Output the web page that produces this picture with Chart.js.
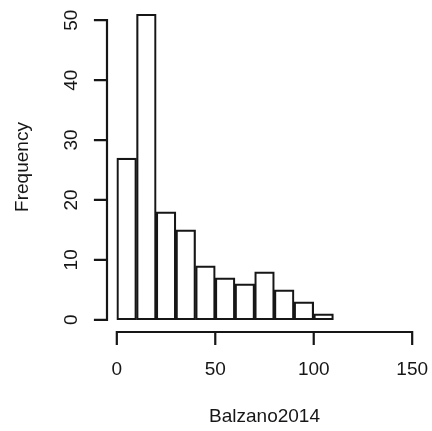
<!DOCTYPE html>
<html>
<head>
<meta charset="utf-8">
<script src="https://cdn.jsdelivr.net/npm/chart.js@4.4.1/dist/chart.umd.min.js"></script>
<style>
  html, body { margin: 0; padding: 0; background: #fff; }
  #wrap { width: 432px; height: 431px; }
</style>
</head>
<body>
<div id="wrap"><canvas id="c" width="432" height="431"></canvas></div>
<script>
// Histogram of Balzano2014: bin edges and counts per bin
const breaks = [0, 10, 20, 30, 40, 50, 60, 70, 80, 90, 100, 110];
const counts = [27, 51, 18, 15, 9, 7, 6, 8, 5, 3, 1];
const xTicks = [0, 50, 100, 150];
const yTicks = [0, 10, 20, 30, 40, 50];
const xTitle = 'Balzano2014';
const yTitle = 'Frequency';

// one point per bin, placed at the bin midpoint
const binData = counts.map((c, i) => ({ x: (breaks[i] + breaks[i + 1]) / 2, y: c }));

const FONT = '19px "Liberation Sans", Arial, Helvetica, sans-serif';
const INK = '#161616';

// R-style detached axes: lines span only the tick range, ticks point outward
const rAxes = {
  id: 'rAxes',
  afterDraw(chart) {
    const { ctx, chartArea: a, scales: { x, y } } = chart;
    const tl = 12;
    ctx.save();
    ctx.strokeStyle = INK;
    ctx.lineWidth = 2.2;
    ctx.lineCap = 'square';

    // x axis
    const yb = a.bottom;
    ctx.beginPath();
    ctx.moveTo(x.getPixelForValue(xTicks[0]), yb);
    ctx.lineTo(x.getPixelForValue(xTicks[xTicks.length - 1]), yb);
    xTicks.forEach(v => {
      const px = x.getPixelForValue(v);
      ctx.moveTo(px, yb);
      ctx.lineTo(px, yb + tl);
    });
    // y axis
    const xl = a.left + 2;
    ctx.moveTo(xl, y.getPixelForValue(yTicks[0]));
    ctx.lineTo(xl, y.getPixelForValue(yTicks[yTicks.length - 1]));
    yTicks.forEach(v => {
      const py = y.getPixelForValue(v);
      ctx.moveTo(xl, py);
      ctx.lineTo(xl - tl, py);
    });
    ctx.stroke();

    ctx.fillStyle = INK;
    ctx.font = FONT;
    ctx.textAlign = 'center';
    ctx.textBaseline = 'middle';
    xTicks.forEach(v => ctx.fillText(String(v), x.getPixelForValue(v), yb + 38));
    ctx.fillText(xTitle, (x.getPixelForValue(xTicks[0]) + x.getPixelForValue(xTicks[xTicks.length - 1])) / 2, yb + 85);

    yTicks.forEach(v => {
      ctx.save();
      ctx.translate(xl - 35, y.getPixelForValue(v));
      ctx.rotate(-Math.PI / 2);
      ctx.fillText(String(v), 0, 0);
      ctx.restore();
    });
    ctx.save();
    ctx.translate(23, (a.top + a.bottom) / 2);
    ctx.rotate(-Math.PI / 2);
    ctx.fillText(yTitle, 0, 0);
    ctx.restore();
    ctx.restore();
  }
};

new Chart(document.getElementById('c'), {
  type: 'bar',
  data: {
    datasets: [{
      data: binData,
      backgroundColor: '#ffffff',
      borderColor: INK,
      borderWidth: 2.2,
      borderSkipped: false,
      barPercentage: 1,
      categoryPercentage: 1
    }]
  },
  options: {
    responsive: false,
    animation: false,
    devicePixelRatio: 1,
    layout: { padding: { left: 105, right: 8, top: 2, bottom: 99 } },
    plugins: { legend: { display: false }, tooltip: { enabled: false } },
    scales: {
      x: {
        type: 'linear',
        min: -6, max: 156,
        offset: false,
        display: false,
        grid: { offset: false },
        afterBuildTicks: s => { s.ticks = xTicks.map(v => ({ value: v })); }
      },
      y: {
        type: 'linear',
        min: -2.04, max: 53.04,
        display: false
      }
    }
  },
  plugins: [rAxes]
});
</script>
</body>
</html>
